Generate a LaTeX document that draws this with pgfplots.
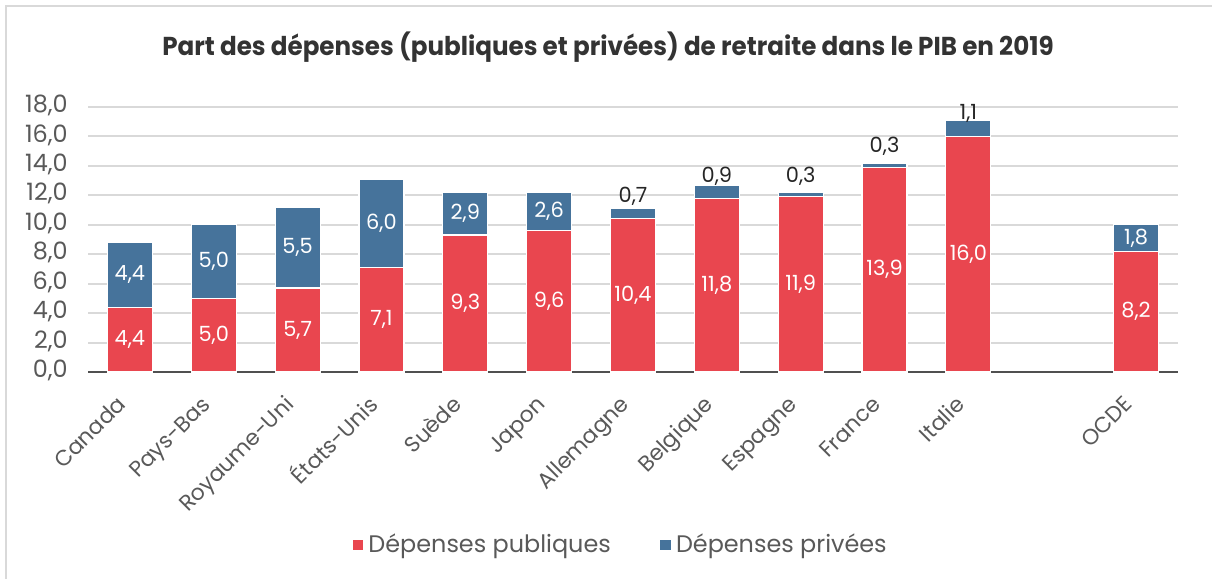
\documentclass[border=0pt]{standalone}
\usepackage{fontspec}
\setmainfont{Poppins}
\usepackage{graphicx}
\usepackage{pgfplots}
\usepackage{pgfplotstable}
\pgfplotsset{compat=1.18}
\definecolor{pub}{HTML}{E9464F}
\definecolor{priv}{HTML}{46739B}
\definecolor{gridc}{HTML}{D9D9D9}
\definecolor{txt}{HTML}{595959}
\definecolor{ttl}{HTML}{333333}

\pgfplotstableread{
x pub priv
0 4.4 4.4
1 5.0 5.0
2 5.7 5.5
3 7.1 6.0
4 9.3 2.9
5 9.6 2.6
6 10.4 0.7
7 11.8 0.9
8 11.9 0.3
9 13.9 0.3
10 16.0 1.1
12 8.2 1.8
}\spend

% labels centred inside the segments
\pgfplotstableread{
x y lab
0 2.2 4,4
1 2.5 5,0
2 2.85 5,7
3 3.55 7,1
4 4.65 9,3
5 4.8 9,6
6 5.2 10,4
7 5.9 11,8
8 5.95 11,9
9 6.95 13,9
10 8.0 16,0
12 4.1 8,2
0 6.6 4,4
1 7.5 5,0
2 8.45 5,5
3 10.1 6,0
4 10.75 2,9
5 10.9 2,6
12 9.1 1,8
}\inlab

% labels above the small private segments (baseline)
\pgfplotstableread{
x y lab
6 11.48 0,7
7 12.84 0,9
8 12.9 0,3
9 14.88 0,3
10 17.12 1,1
}\toplab

\begin{document}
\begin{tikzpicture}
\fontsize{12}{14}\selectfont
\path[use as bounding box] (0,0) rectangle (606bp,289.5bp);
\draw[gridc, line width=1bp] (3bp,0) -- (3bp,286.5bp) -- (606bp,286.5bp);
\node[text=ttl] at (304bp,266bp) {\scalebox{0.95}[1]{\fontsize{13}{15}\selectfont\bfseries Part des dépenses (publiques et privées) de retraite dans le PIB en 2019}};

\pgfplotsset{
  base/.style={
    at={(44bp,103.5bp)}, anchor=south west,
    scale only axis, width=545bp, height=132.5bp,
    xmin=-0.5, xmax=12.5, ymin=0, ymax=18, clip=false,
  }
}
\begin{axis}[
  base,
  ybar stacked, bar width=22.5bp,
  axis x line*=bottom, axis y line*=left,
  y axis line style={draw=none},
  x axis line style={draw=txt!90!black, line width=1.2bp},
  major tick length=0pt,
  ytick={0,2,...,18},
  ymajorgrids, major grid style={gridc, line width=1bp},
  yticklabel style={text=txt, xshift=-6bp, /pgf/number format/.cd, fixed, fixed zerofill, precision=1, use comma, assume math mode=true},
  xtick={0,1,2,3,4,5,6,7,8,9,10,12},
  xticklabels={Canada,Pays-Bas,Royaume-Uni,États-Unis,Suède,Japon,Allemagne,Belgique,Espagne,France,Italie,OCDE},
  typeset ticklabels with strut,
  xticklabel style={text=txt, font=\fontsize{11}{13}\selectfont, inner sep=0pt, xshift=-3bp, yshift=-15bp, rotate=45, anchor=east},
  legend columns=2,
  legend style={draw=none, at={(0.489,-0.653)}, anchor=center, text=txt,
    /tikz/every even column/.append style={column sep=22bp}},
  legend image code/.code={\fill[#1] (0bp,-3bp) rectangle (6bp,3bp);},
]
\addplot[fill=pub, draw=white, line width=0.6bp] table[x=x, y=pub] {\spend};
\addlegendentry{Dépenses publiques}
\addplot[fill=priv, draw=white, line width=0.6bp] table[x=x, y=priv] {\spend};
\addlegendentry{Dépenses privées}
\end{axis}

\begin{axis}[base, hide axis]
\addplot[draw=none, mark=none, point meta=explicit symbolic,
  nodes near coords, nodes near coords align={center},
  every node near coord/.append style={text=white, anchor=center, font=\fontsize{10.5}{12}\selectfont}]
  table[x=x, y=y, meta=lab] {\inlab};
\addplot[draw=none, mark=none, point meta=explicit symbolic,
  nodes near coords,
  every node near coord/.append style={text=black!85, anchor=base, inner sep=0pt, font=\fontsize{10.5}{12}\selectfont}]
  table[x=x, y=y, meta=lab] {\toplab};
\end{axis}
\end{tikzpicture}
\end{document}
